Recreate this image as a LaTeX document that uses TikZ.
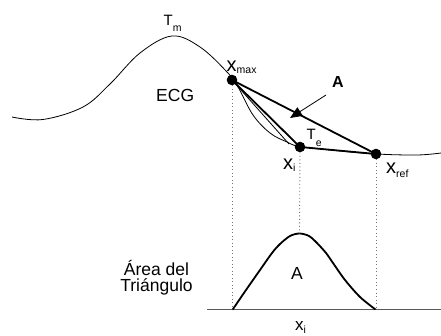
\documentclass[tikz,border=0pt]{standalone}
\usepackage{fontspec}
\setmainfont{Liberation Sans}
\usetikzlibrary{arrows.meta}
\newcommand{\subtx}[2]{\raisebox{-#1}{\fontsize{10.5}{10.5}\selectfont #2}}
\begin{document}
\begin{tikzpicture}[x=1pt,y=-1pt,
  dot/.style={circle,fill=black,inner sep=0pt,minimum size=10.6pt},
  thickln/.style={line width=1.8pt},
  thinln/.style={line width=0.8pt},
  guide/.style={black!55,line width=0.9pt,dash pattern=on 0.9pt off 2.6pt},
  lbl/.style={inner sep=0pt,anchor=base west,font=\fontsize{17.5}{17.5}\selectfont},
  xlbl/.style={inner sep=0pt,anchor=base west,font=\fontsize{20}{20}\selectfont},
  tlbl/.style={inner sep=0pt,anchor=base west,font=\fontsize{15}{15}\selectfont}]
\useasboundingbox (0,0) rectangle (441,336);
\fill[white] (0,0) rectangle (441,336);

% ECG curve
\draw[thinln] plot[smooth,tension=0.6] coordinates {(12,117) (43,119.5) (83,107) (110,84) (140,53) (172,36) (200,47) (227,72) (238,87) (253,115) (270,133) (287,142) (300,146.5) (340,151) (376,154) (417,155) (441,153)};

% key points
\node[dot] (xmax) at (232,80) {};
\node[dot] (xi) at (300,147) {};
\node[dot] (xref) at (376,154) {};
\coordinate (xj) at (289,144);

% triangle
\draw[thickln] (xmax.center) -- (xref.center);
\draw[thickln] (xmax.center) -- (xi.center);
\draw[thickln] (xi.center) -- (xref.center);
\draw[thinln] (xmax.center) -- (xj);

% arrow A
\node[inner sep=0pt,anchor=base west,font=\bfseries\fontsize{16}{16}\selectfont] (albl) at (332,88) {A};
\coordinate (atail) at (326,95);
\coordinate (ahead) at (290,118);
\draw[thinln,-{Triangle[length=12pt,width=10pt]}] (atail) -- (ahead);

% labels
\node[tlbl] (tm) at (163.5,25.7) {T\subtx{6pt}{m}};
\node[xlbl] (lxmax) at (226.5,72) {x\subtx{2pt}{max}};
\node[lbl] (ecg) at (156,102) {ECG};
\node[tlbl] (te) at (306.5,140) {T\subtx{6.5pt}{e}};
\node[xlbl] (lxi) at (283,170) {x\subtx{2pt}{i}};
\node[xlbl] (lxref) at (386,174) {x\subtx{4pt}{ref}};

% bottom plot
\coordinate (bl) at (207,309.5);
\coordinate (br) at (441,309.5);
\draw[black!65,line width=1.3pt] (bl) -- (br);
\coordinate (bpeak) at (299.5,233.5);
\draw[thickln] plot[smooth,tension=0.5] coordinates {(232.7,309.5) (246,290) (260,270) (272,253) (280,244) (290,236) (bpeak) (309,236) (317,243) (326,253) (333,263) (345,280) (360,297) (375.5,309.5)};

% guides
\draw[guide] (xmax) -- (xmax |- bl);
\draw[guide] (xi) -- (bpeak);
\draw[guide] (xref) -- (xref |- bl);

\node[lbl] (barea) at (291,279.3) {A};
\node[inner sep=0pt,anchor=base,align=center,font=\fontsize{17.5}{16.5}\selectfont] (area) at (156.5,291.5) {Área del\\Triángulo};
\node[lbl,font=\fontsize{17}{17}\selectfont] (bxi) at (295,330.7) {x\subtx{2.3pt}{i}};
\end{tikzpicture}
\end{document}
